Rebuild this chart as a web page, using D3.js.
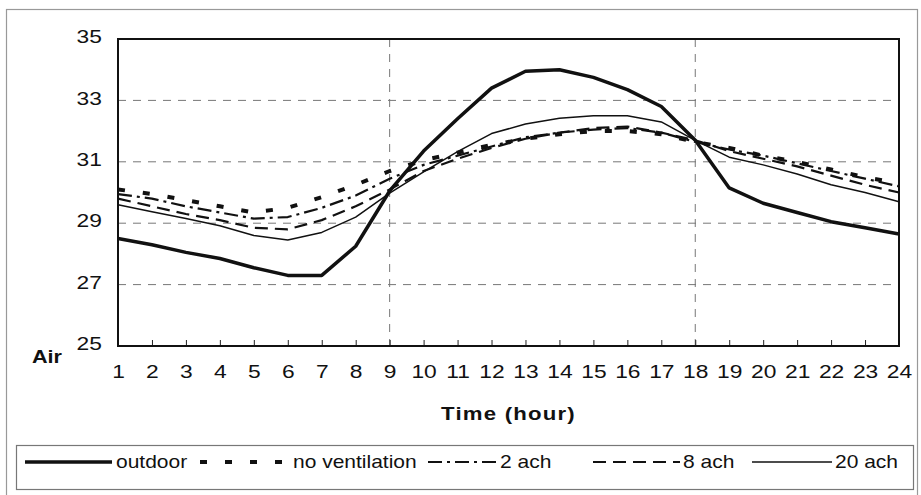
<!DOCTYPE html>
<html>
<head>
<meta charset="utf-8">
<script src="https://cdn.jsdelivr.net/npm/d3@7"></script>
<style>
  body { margin: 0; background: #fff; }
  text { font-family: "Liberation Sans", Arial, sans-serif; fill: #111; }
</style>
</head>
<body>
<div id="chart"></div>
<script>
// hourly air temperature
var hours = d3.range(1, 25);
var yTicks = [25, 27, 29, 31, 33, 35];
var outdoor   = [28.5, 28.3, 28.05, 27.85, 27.55, 27.3, 27.3, 28.25, 30.05, 31.35, 32.4, 33.4, 33.95, 34.0, 33.75, 33.35, 32.8, 31.7, 30.15, 29.65, 29.35, 29.05, 28.85, 28.65];
var noVent    = [30.1, 29.95, 29.75, 29.55, 29.35, 29.5, 29.85, 30.25, 30.7, 31.05, 31.3, 31.55, 31.75, 31.9, 32.0, 32.0, 31.9, 31.65, 31.45, 31.2, 31.0, 30.75, 30.5, 30.3];
var ach2      = [29.95, 29.8, 29.55, 29.35, 29.15, 29.2, 29.5, 29.9, 30.45, 30.9, 31.2, 31.5, 31.8, 31.95, 32.05, 32.1, 31.95, 31.65, 31.4, 31.2, 30.95, 30.7, 30.45, 30.2];
var ach8      = [29.8, 29.55, 29.3, 29.1, 28.85, 28.8, 29.1, 29.55, 30.1, 30.7, 31.1, 31.45, 31.75, 31.95, 32.1, 32.15, 31.95, 31.7, 31.35, 31.1, 30.85, 30.55, 30.25, 30.0];
var ach20     = [29.6, 29.37, 29.15, 28.92, 28.6, 28.45, 28.7, 29.2, 29.98, 30.67, 31.33, 31.92, 32.23, 32.42, 32.5, 32.5, 32.3, 31.7, 31.15, 30.9, 30.6, 30.25, 30.0, 29.7];
var seriesNames = ["outdoor", "no ventilation", "2 ach", "8 ach", "20 ach"];

// line styles for each series
var styles = [
    { w: 3.5, dash: null },
    { w: 4, dash: "7,18" },
    { w: 2.2, dash: "14,5,3,5" },
    { w: 2.2, dash: "13,7" },
    { w: 1.5, dash: null }
];
var seriesData = [outdoor, noVent, ach2, ach8, ach20];

var W = 921, H = 495;
var margin = { top: 39, right: 22, bottom: 149, left: 118 };
var width = W - margin.left - margin.right;
var height = H - margin.top - margin.bottom;
var stretch = "scale(1.2,1)";

var root = d3.select("#chart").append("svg")
    .attr("width", W)
    .attr("height", H);

// outer frame
root.append("rect")
    .attr("x", 6.5).attr("y", 9.5)
    .attr("width", 911).attr("height", 500)
    .attr("fill", "none")
    .attr("stroke", "#999")
    .attr("stroke-width", 1.2);

var svg = root.append("g")
    .attr("transform", "translate(" + margin.left + "," + margin.top + ")");

var x = d3.scaleLinear().domain([1, 24]).range([0, width]);
var y = d3.scaleLinear().domain([25, 35]).range([height, 0]);

// gridlines
svg.selectAll(".hgrid")
    .data(yTicks.filter(function(d) { return d > 25 && d < 35; }))
    .join("line")
    .attr("x1", 0).attr("x2", width)
    .attr("y1", function(d) { return y(d); })
    .attr("y2", function(d) { return y(d); })
    .attr("stroke", "#777")
    .attr("stroke-width", 1)
    .attr("stroke-dasharray", "8,7");

svg.selectAll(".vgrid")
    .data([9, 18])
    .join("line")
    .attr("x1", function(d) { return x(d); })
    .attr("x2", function(d) { return x(d); })
    .attr("y1", 0).attr("y2", height)
    .attr("stroke", "#777")
    .attr("stroke-width", 1)
    .attr("stroke-dasharray", "8,7");

// x axis with small inward ticks
var xAxis = svg.append("g")
    .attr("transform", "translate(0," + height + ")")
    .call(d3.axisBottom(x).tickValues(hours).tickSize(-6).tickFormat(d3.format("d")));
xAxis.select(".domain").remove();
xAxis.selectAll("line").attr("stroke", "#222");
xAxis.selectAll("text")
    .attr("y", 32).attr("dy", 0)
    .attr("transform", stretch)
    .style("font-size", "19px")
    .style("font-family", "Liberation Sans, Arial, sans-serif")
    .attr("fill", "#111");

// y axis labels only
var yAxis = svg.append("g")
    .call(d3.axisLeft(y).tickValues(yTicks).tickSize(0));
yAxis.select(".domain").remove();
yAxis.selectAll("text")
    .attr("x", -13.5)
    .attr("y", -3)
    .attr("dy", "0.35em")
    .attr("transform", stretch)
    .style("font-size", "19px")
    .style("font-family", "Liberation Sans, Arial, sans-serif")
    .attr("fill", "#111");

// plot border
svg.append("rect")
    .attr("x", 0).attr("y", 0)
    .attr("width", width).attr("height", height)
    .attr("fill", "none")
    .attr("stroke", "#111")
    .attr("stroke-width", 2);

// series lines
var line = d3.line()
    .x(function(d, i) { return x(hours[i]); })
    .y(function(d) { return y(d); });

svg.selectAll(".series")
    .data(seriesData)
    .join("path")
    .attr("d", line)
    .attr("fill", "none")
    .attr("stroke", "#111")
    .attr("stroke-width", function(d, i) { return styles[i].w; })
    .attr("stroke-dasharray", function(d, i) { return styles[i].dash; })
    .attr("stroke-linejoin", "round");

// axis titles
root.append("text")
    .attr("transform", "translate(32,363) " + stretch)
    .style("font-size", "18px")
    .style("font-weight", "bold")
    .text("Air");

root.append("text")
    .attr("transform", "translate(" + (margin.left + width / 2) + ",420) " + stretch)
    .attr("text-anchor", "middle")
    .style("font-size", "18.5px")
    .style("font-weight", "bold")
    .style("letter-spacing", "1px")
    .text("Time (hour)");

// legend
var legendItems = [
    { x1: 25, x2: 112, tx: 116 },
    { x1: 200, x2: 291, tx: 293 },
    { x1: 428, x2: 497, tx: 500 },
    { x1: 593, x2: 680, tx: 683 },
    { x1: 752, x2: 832, tx: 835 }
];

root.append("rect")
    .attr("x", 16.5).attr("y", 445.5)
    .attr("width", 897).attr("height", 44)
    .attr("fill", "none")
    .attr("stroke", "#777")
    .attr("stroke-width", 1.2);

var legend = root.selectAll(".legend")
    .data(seriesNames)
    .join("g");

legend.append("line")
    .attr("x1", function(d, i) { return legendItems[i].x1; })
    .attr("x2", function(d, i) { return legendItems[i].x2; })
    .attr("y1", 462).attr("y2", 462)
    .attr("stroke", "#111")
    .attr("stroke-width", function(d, i) { return styles[i].w; })
    .attr("stroke-dasharray", function(d, i) { return styles[i].dash; });

legend.append("text")
    .attr("transform", function(d, i) { return "translate(" + legendItems[i].tx + ",468) " + stretch; })
    .style("font-size", "17.5px")
    .text(function(d) { return d; });
</script>
</body>
</html>
